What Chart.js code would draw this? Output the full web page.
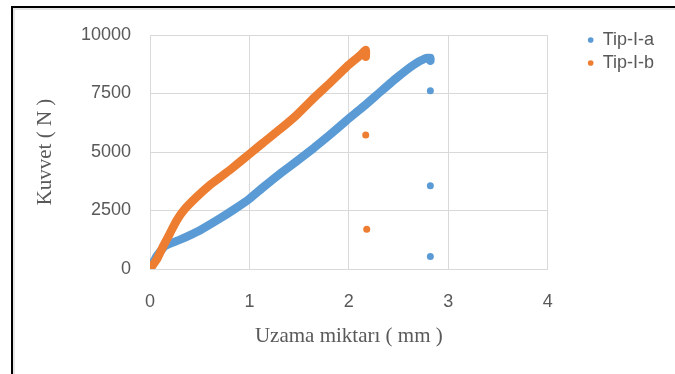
<!DOCTYPE html>
<html>
<head>
<meta charset="utf-8">
<script src="https://cdn.jsdelivr.net/npm/chart.js@4.4.0/dist/chart.umd.min.js"></script>
<style>
  html, body { margin: 0; padding: 0; background: #fff; }
  #wrap { position: relative; width: 675px; height: 374px; overflow: hidden; }
  #frame {
    position: absolute; left: 11px; top: 6px; width: 700px; height: 400px;
    border-top: 2px solid #000; border-left: 2px solid #000;
    box-shadow: inset 2px 2px 0 #e6e6e6;
  }
  #myChart { position: absolute; left: 0; top: 0; }
</style>
</head>
<body>
<div id="wrap">
  <div id="frame"></div>
  <canvas id="myChart" width="675" height="374"></canvas>
</div>
<script>
// Tip-I-a (blue) : elongation (mm) vs force (N)
var tipAx = [0, 0.07, 0.15, 0.30, 0.50, 0.70, 0.85, 1.00, 1.14, 1.31, 1.48, 1.65, 1.81, 1.98, 2.15, 2.32, 2.49, 2.65, 2.77, 2.82, 2.82];
var tipAy = [0, 560, 980, 1250, 1650, 2150, 2560, 3000, 3500, 4080, 4620, 5180, 5740, 6360, 6950, 7580, 8200, 8720, 9000, 9020, 8900];
// points after the break
var tipAdropX = [2.82, 2.82, 2.82];
var tipAdropY = [7620, 3560, 530];

// Tip-I-b (orange)
var tipBx = [0, 0.07, 0.13, 0.20, 0.27, 0.35, 0.47, 0.60, 0.70, 0.81, 1.01, 1.14, 1.31, 1.48, 1.68, 1.81, 1.98, 2.12, 2.17, 2.17];
var tipBy = [0, 420, 950, 1520, 2080, 2560, 3080, 3580, 3900, 4250, 4950, 5400, 5980, 6600, 7440, 7950, 8650, 9150, 9360, 9070];
var tipBdropX = [2.17, 2.18];
var tipBdropY = [5730, 1700];

var xTicks = [0, 1, 2, 3, 4];
var yTicks = [0, 2500, 5000, 7500, 10000];

var blue = "#5B9BD5";
var orange = "#ED7D31";
var grey = "#595959";

function buildData(xs, ys, dx, dy) {
  var pts = [];
  for (var i = 0; i < xs.length; i++) pts.push({x: xs[i], y: ys[i]});
  for (var j = 0; j < dx.length; j++) {
    pts.push({x: dx[j], y: null}); // break the line before each loose point
    pts.push({x: dx[j], y: dy[j]});
  }
  return pts;
}

function dropRadius(n) {
  return function (ctx) { return ctx.dataIndex >= n ? 3.5 : 0; };
}

// moves the legend items to the right, away from the plot
var shiftLegend = {
  id: "shiftLegend",
  afterLayout: function (chart) {
    chart.legend.left += 35;
    chart.legend.right += 35;
  }
};

new Chart("myChart", {
  type: "scatter",
  data: {
    datasets: [{
      label: "Tip-I-a",
      data: buildData(tipAx, tipAy, tipAdropX, tipAdropY),
      showLine: true,
      borderColor: blue,
      backgroundColor: blue,
      borderWidth: 8.5,
      borderCapStyle: "round",
      borderJoinStyle: "round",
      tension: 0.15,
      pointRadius: dropRadius(tipAx.length),
      pointBorderWidth: 0,
      pointBackgroundColor: blue,
      order: 1
    }, {
      label: "Tip-I-b",
      data: buildData(tipBx, tipBy, tipBdropX, tipBdropY),
      showLine: true,
      borderColor: orange,
      backgroundColor: orange,
      borderWidth: 8.5,
      borderCapStyle: "round",
      borderJoinStyle: "round",
      tension: 0.15,
      pointRadius: dropRadius(tipBx.length),
      pointBorderWidth: 0,
      pointBackgroundColor: orange,
      order: 0
    }]
  },
  options: {
    responsive: false,
    animation: false,
    layout: { padding: { left: 0, top: 26, right: 46, bottom: 0 } },
    scales: {
      x: {
        type: "linear",
        min: 0,
        max: 4,
        afterFit: function (scale) { scale.height = 105; },
        afterBuildTicks: function (scale) { scale.ticks = xTicks.map(function (v) { return {value: v}; }); },
        ticks: {
          padding: 22, color: grey, font: { family: "Liberation Sans", size: 18 },
          callback: function (v) { return String(v); }
        },
        grid: { color: "#d9d9d9", drawTicks: false },
        border: { color: "#d9d9d9" },
        title: {
          display: true,
          text: "Uzama miktarı ( mm )",
          color: grey,
          font: { family: "Liberation Serif", size: 21 },
          padding: { top: 0, bottom: 25 }
        }
      },
      y: {
        min: 0,
        max: 10000,
        afterFit: function (scale) { scale.width = 150; },
        afterBuildTicks: function (scale) { scale.ticks = yTicks.map(function (v) { return {value: v}; }); },
        ticks: {
          padding: 19, color: grey, font: { family: "Liberation Sans", size: 18 },
          callback: function (v) { return String(v); }
        },
        grid: { color: "#d9d9d9", drawTicks: false },
        border: { color: "#d9d9d9" },
        title: {
          display: true,
          text: "Kuvvet ( N )",
          color: grey,
          font: { family: "Liberation Serif", size: 21 },
          padding: { top: 33, bottom: 0 }
        }
      }
    },
    plugins: {
      title: { display: true, text: "", padding: 0, font: { size: 9, lineHeight: 1 } },
      legend: {
        position: "right",
        align: "start",
        labels: {
          usePointStyle: true,
          boxWidth: 6,
          boxHeight: 4,
          padding: 5,
          color: grey,
          font: { family: "Liberation Sans", size: 18 },
          sort: function (a, b) { return a.datasetIndex - b.datasetIndex; }
        }
      },
      tooltip: { enabled: false }
    }
  },
  plugins: [shiftLegend]
});
</script>
</body>
</html>
